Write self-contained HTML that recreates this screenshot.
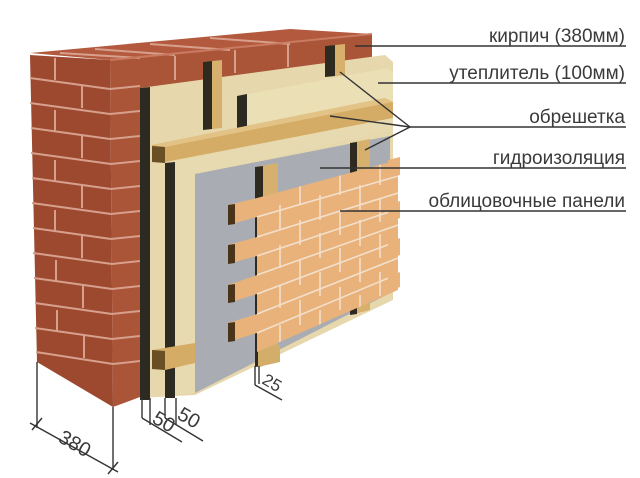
<!DOCTYPE html>
<html><head><meta charset="utf-8"><style>
html,body{margin:0;padding:0;background:#fff;width:640px;height:478px;overflow:hidden}
svg{display:block}
text{font-family:"Liberation Sans",sans-serif;fill:#3a3a3a}
</style></head><body>
<svg width="640" height="478" viewBox="0 0 640 478" xmlns="http://www.w3.org/2000/svg">
<defs>
<clipPath id="pc"><polygon points="257,198 398,160 398,290 257,352"/></clipPath>
</defs>
<!-- brick wall -->
<polygon points="30,53 290,29 372,34 110,60" fill="#b35a3e"/>
<polygon points="30,55 110,60 113,407 37,362" fill="#9c4930"/>
<polygon points="110,60 372,34 372,300 140,397 113,407" fill="#aa5438"/>
<g stroke="#d7a08c" stroke-width="2" fill="none">
<line x1="30" y1="78" x2="110" y2="89"/><line x1="30" y1="103" x2="110" y2="114"/>
<line x1="31" y1="128" x2="110" y2="139"/><line x1="31" y1="153" x2="111" y2="164"/>
<line x1="32" y1="178" x2="111" y2="189"/><line x1="32" y1="203" x2="111" y2="214"/>
<line x1="33" y1="228" x2="111" y2="239"/><line x1="33" y1="253" x2="112" y2="264"/>
<line x1="34" y1="278" x2="112" y2="289"/><line x1="35" y1="303" x2="112" y2="314"/>
<line x1="35" y1="328" x2="112" y2="339"/><line x1="36" y1="352" x2="113" y2="364"/>
<line x1="110" y1="89" x2="140" y2="86"/><line x1="110" y1="114" x2="140" y2="111"/>
<line x1="110" y1="139" x2="140" y2="136"/><line x1="111" y1="164" x2="140" y2="161"/>
<line x1="111" y1="189" x2="140" y2="186"/><line x1="111" y1="214" x2="140" y2="211"/>
<line x1="111" y1="239" x2="140" y2="236"/><line x1="112" y1="264" x2="140" y2="261"/>
<line x1="112" y1="289" x2="140" y2="286"/><line x1="112" y1="314" x2="140" y2="311"/>
<line x1="112" y1="339" x2="140" y2="336"/><line x1="113" y1="364" x2="140" y2="361"/>
<line x1="60" y1="53" x2="140" y2="58"/><line x1="95" y1="49" x2="175" y2="55"/>
<line x1="150" y1="44" x2="230" y2="50"/><line x1="210" y1="38" x2="290" y2="44"/>
<line x1="110" y1="60" x2="372" y2="34" stroke="#c97a60"/>
<line x1="55" y1="58" x2="55" y2="80"/><line x1="82" y1="85" x2="82" y2="108"/>
<line x1="55" y1="110" x2="55" y2="132"/><line x1="82" y1="135" x2="82" y2="158"/>
<line x1="55" y1="160" x2="55" y2="182"/><line x1="82" y1="185" x2="82" y2="208"/>
<line x1="55" y1="210" x2="55" y2="232"/><line x1="82" y1="235" x2="82" y2="258"/>
<line x1="56" y1="260" x2="56" y2="282"/><line x1="83" y1="285" x2="83" y2="308"/>
<line x1="57" y1="310" x2="57" y2="332"/><line x1="84" y1="335" x2="84" y2="358"/>
<line x1="175" y1="56" x2="175" y2="80"/><line x1="235" y1="50" x2="235" y2="73"/><line x1="288" y1="44" x2="288" y2="67"/>
</g>
<!-- back insulation -->
<polygon points="140,88 385,55 393,62 393,300 195,395 140,398" fill="#e6d8ac"/>
<polygon points="140,88 150,87 150,400 140,400" fill="#2d2a22"/>
<!-- top vertical battens -->
<polygon points="203,62 222,60 222,128 203,130" fill="#d6b06c"/>
<polygon points="203,62 212,61 212,129 203,130" fill="#2e2a1f"/>
<polygon points="325,46 345,44 345,75 325,77" fill="#d6b06c"/>
<polygon points="325,46 335,45 335,76 325,77" fill="#2e2a1f"/>
<!-- front insulation top layer -->
<polygon points="237,96 388,68 393,72 393,130 237,140" fill="#ebdfb6"/>
<polygon points="237,96 247,94 247,128 237,130" fill="#2d2a22"/>
<!-- horizontal batten -->
<polygon points="152,145 385,98 393,102 393,118 165,162 152,162" fill="#d4ac66"/>
<polygon points="152,145 385,98 393,102 165,147" fill="#e2c285"/>
<polygon points="152,146 165,147 165,163 152,162" fill="#6b4f24"/>
<!-- lower front insulation -->
<polygon points="165,163 393,118 393,130 195,175 195,393 165,395" fill="#e8dab0"/>
<polygon points="165,163 175,162 175,398 165,398" fill="#2d2a22"/>
<!-- bottom batten -->
<polygon points="152,350 195,343 195,363 165,370 152,369" fill="#d4ac66"/>
<polygon points="152,350 165,351 165,370 152,369" fill="#6b4f24"/>
<!-- membrane -->
<polygon points="195,174 390,136 390,293 195,393" fill="#a9acb3"/>
<!-- battens behind panel -->
<polygon points="255,167 278,163 278,360 255,366" fill="#d6b06c"/>
<polygon points="255,167 263,166 263,366 255,367" fill="#2e2a1f"/>
<polygon points="350,143 370,139 370,310 350,315" fill="#d6b06c"/>
<polygon points="350,143 357,142 357,314 350,315" fill="#2e2a1f"/>
<polygon points="258,350 280,345 280,362 258,367" fill="#d3ae6a"/>
<!-- facing panel -->
<polygon points="257,198 398,160 398,290 257,352" fill="#e8b27a"/>
<g clip-path="url(#pc)" stroke="#f3e0cc" stroke-width="1.6" fill="none">
<line x1="257" y1="217" x2="398" y2="176"/><line x1="257" y1="237" x2="398" y2="193"/>
<line x1="257" y1="256" x2="398" y2="209"/><line x1="257" y1="275" x2="398" y2="225"/>
<line x1="257" y1="294" x2="398" y2="241"/><line x1="257" y1="314" x2="398" y2="258"/>
<line x1="257" y1="333" x2="398" y2="274"/>
<line x1="300" y1="180" x2="300" y2="205"/><line x1="340" y1="170" x2="340" y2="195"/><line x1="380" y1="160" x2="380" y2="185"/>
<line x1="280" y1="205" x2="280" y2="230"/><line x1="320" y1="195" x2="320" y2="220"/><line x1="360" y1="185" x2="360" y2="210"/>
<line x1="300" y1="220" x2="300" y2="245"/><line x1="340" y1="210" x2="340" y2="235"/><line x1="380" y1="198" x2="380" y2="222"/>
<line x1="280" y1="245" x2="280" y2="268"/><line x1="320" y1="233" x2="320" y2="258"/><line x1="360" y1="220" x2="360" y2="246"/>
<line x1="300" y1="260" x2="300" y2="285"/><line x1="340" y1="248" x2="340" y2="272"/><line x1="380" y1="234" x2="380" y2="258"/>
<line x1="280" y1="285" x2="280" y2="308"/><line x1="320" y1="272" x2="320" y2="296"/><line x1="360" y1="258" x2="360" y2="282"/>
<line x1="300" y1="300" x2="300" y2="325"/><line x1="340" y1="287" x2="340" y2="310"/><line x1="380" y1="272" x2="380" y2="296"/>
<line x1="280" y1="325" x2="280" y2="348"/><line x1="320" y1="310" x2="320" y2="334"/><line x1="360" y1="295" x2="360" y2="318"/>
</g>
<!-- sticking strips -->
<g>
<polygon points="228,205 257,198 257,217 228,225" fill="#e8b27a"/>
<polygon points="228,205 235,204 235,224 228,225" fill="#4a3419"/>
<polygon points="228,245 257,237 257,256 228,264" fill="#e8b27a"/>
<polygon points="228,245 235,244 235,263 228,264" fill="#4a3419"/>
<polygon points="228,285 257,275 257,294 228,303" fill="#e8b27a"/>
<polygon points="228,285 235,284 235,302 228,303" fill="#4a3419"/>
<polygon points="228,323 257,314 257,333 228,342" fill="#e8b27a"/>
<polygon points="228,323 235,322 235,341 228,342" fill="#4a3419"/>
<polygon points="388,160 400,157 400,175 388,178" fill="#e8b27a"/>
<polygon points="388,205 400,201 400,218 388,222" fill="#e8b27a"/>
<polygon points="388,243 400,238 400,255 388,260" fill="#e8b27a"/>
<polygon points="388,277 400,272 400,287 388,292" fill="#e8b27a"/>
</g>
<!-- leader lines -->
<g stroke="#333" stroke-width="1.4" fill="none">
<line x1="355" y1="46" x2="626" y2="46"/>
<line x1="378" y1="83" x2="626" y2="83"/>
<line x1="330" y1="116" x2="410" y2="127"/>
<line x1="410" y1="127" x2="626" y2="127"/>
<line x1="340" y1="72" x2="410" y2="127"/>
<line x1="365" y1="150" x2="410" y2="127"/>
<line x1="320" y1="168" x2="626" y2="168"/>
<line x1="340" y1="211" x2="626" y2="211"/>
<!-- dims -->
<line x1="37" y1="362" x2="37" y2="428"/>
<line x1="113" y1="407" x2="113" y2="470"/>
<line x1="30" y1="423" x2="118" y2="472"/>
<line x1="32" y1="430" x2="42" y2="418"/>
<line x1="108" y1="474" x2="118" y2="462"/>
<line x1="142" y1="398" x2="142" y2="418"/>
<line x1="150" y1="398" x2="150" y2="425"/>
<line x1="165" y1="398" x2="165" y2="418"/>
<line x1="176" y1="398" x2="176" y2="425"/>
<line x1="142" y1="418" x2="182" y2="442"/>
<line x1="165" y1="418" x2="203" y2="441"/>
<line x1="255" y1="366" x2="255" y2="385"/>
<line x1="259" y1="366" x2="259" y2="384"/>
<line x1="255" y1="385" x2="282" y2="400"/>
</g>
<g font-size="19" text-anchor="end">
<text x="625" y="42">кирпич (380мм)</text>
<text x="625" y="79">утеплитель (100мм)</text>
<text x="625" y="123">обрешетка</text>
<text x="625" y="164">гидроизоляция</text>
<text x="625" y="207">облицовочные панели</text>
</g>
<g font-size="20">
<text transform="translate(57,441) rotate(30)">380</text>
<text transform="translate(151,422) rotate(30)">50</text>
<text transform="translate(176,418) rotate(30)">50</text>
<text transform="translate(261,383) rotate(30)" font-size="17">25</text>
</g>
</svg>
</body></html>
